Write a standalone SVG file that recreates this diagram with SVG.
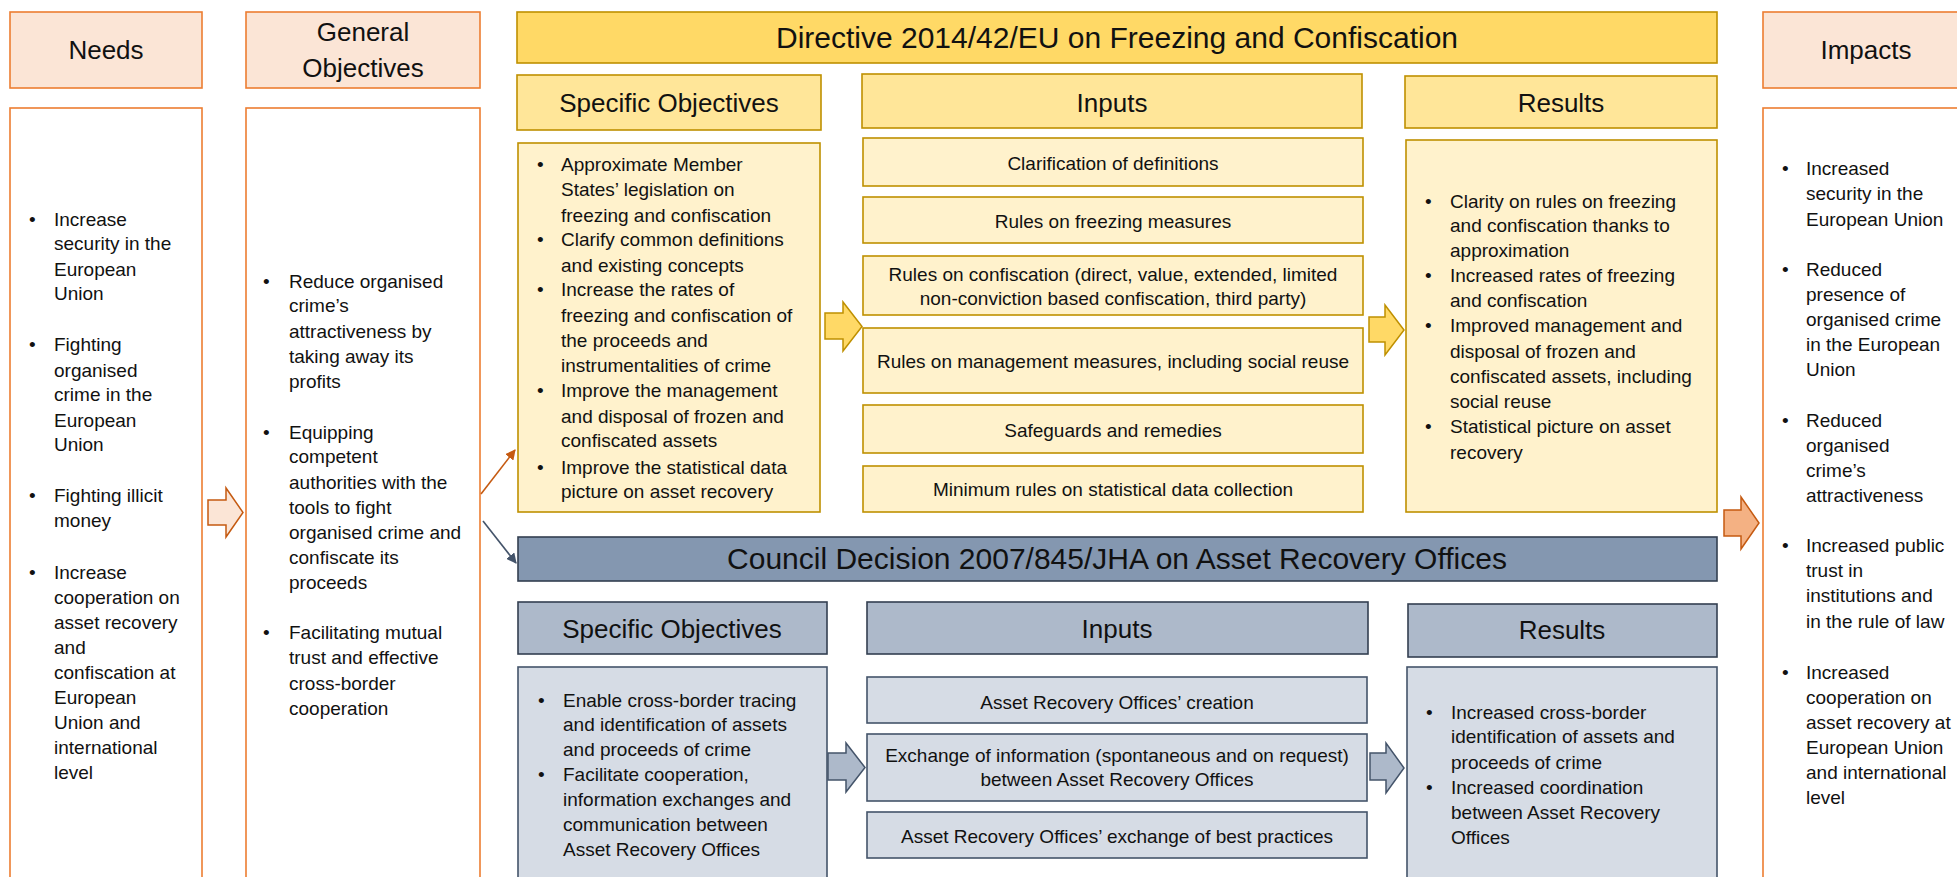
<svg xmlns="http://www.w3.org/2000/svg" width="1957" height="877" viewBox="0 0 1957 877">
<style>
text{font-family:"Liberation Sans",Arial,sans-serif;fill:#111;}
.t{font-size:19px;}
.h{font-size:26px;text-anchor:middle;}
.ti{font-size:30px;text-anchor:middle;}
.c{text-anchor:middle;}
.oh{fill:#FBE5D6;stroke:#ED7D31;stroke-width:1.6;}
.ob{fill:#FFFFFF;stroke:#ED7D31;stroke-width:1.6;}
.yt{fill:#FFD966;stroke:#BF9000;stroke-width:1.6;}
.yh{fill:#FFE699;stroke:#BF9000;stroke-width:1.6;}
.yb{fill:#FFF2CC;stroke:#BF9000;stroke-width:1.6;}
.gt{fill:#8497B0;stroke:#333F50;stroke-width:1.6;}
.gh{fill:#ADB9CA;stroke:#333F50;stroke-width:1.6;}
.gb{fill:#D6DCE5;stroke:#44546A;stroke-width:1.6;}
.ya{fill:#FFD966;stroke:#BF9000;stroke-width:1.5;}
.ga{fill:#ADB9CA;stroke:#44546A;stroke-width:1.5;}
.oa{fill:#F4B183;stroke:#C55A11;stroke-width:1.5;}
.pa{fill:#FBE5D6;stroke:#C55A11;stroke-width:1.5;}
</style>
<defs>
<marker id="mo" viewBox="0 0 10 10" refX="9" refY="5" markerWidth="6.5" markerHeight="6.5" orient="auto"><path d="M0,0 L10,5 L0,10 z" fill="#C55A11"/></marker>
<marker id="mg" viewBox="0 0 10 10" refX="9" refY="5" markerWidth="6.5" markerHeight="6.5" orient="auto"><path d="M0,0 L10,5 L0,10 z" fill="#44546A"/></marker>
</defs>

<g id="needs">
<rect class="oh" x="10" y="12" width="192" height="76"/>
<text class="h" x="106" y="59">Needs</text>
<rect class="ob" x="10" y="108" width="192" height="790"/>
<g class="t">
<text x="29" y="226">•</text><text x="54" y="226">Increase</text>
<text x="54" y="250">security in the</text>
<text x="54" y="276">European</text>
<text x="54" y="300">Union</text>
<text x="29" y="351">•</text><text x="54" y="351">Fighting</text>
<text x="54" y="377">organised</text>
<text x="54" y="401">crime in the</text>
<text x="54" y="427">European</text>
<text x="54" y="451">Union</text>
<text x="29" y="502">•</text><text x="54" y="502">Fighting illicit</text>
<text x="54" y="527">money</text>
<text x="29" y="579">•</text><text x="54" y="579">Increase</text>
<text x="54" y="604">cooperation on</text>
<text x="54" y="629">asset recovery</text>
<text x="54" y="654">and</text>
<text x="54" y="679">confiscation at</text>
<text x="54" y="704">European</text>
<text x="54" y="729">Union and</text>
<text x="54" y="754">international</text>
<text x="54" y="779">level</text>
</g>
</g>

<g id="general-objectives">
<rect class="oh" x="246" y="12" width="234" height="76"/>
<text class="h" x="363" y="41">General</text>
<text class="h" x="363" y="77">Objectives</text>
<rect class="ob" x="246" y="108" width="234" height="790"/>
<g class="t">
<text x="263" y="288">•</text><text x="289" y="288">Reduce organised</text>
<text x="289" y="312">crime’s</text>
<text x="289" y="338">attractiveness by</text>
<text x="289" y="363">taking away its</text>
<text x="289" y="388">profits</text>
<text x="263" y="439">•</text><text x="289" y="439">Equipping</text>
<text x="289" y="463">competent</text>
<text x="289" y="489">authorities with the</text>
<text x="289" y="514">tools to fight</text>
<text x="289" y="539">organised crime and</text>
<text x="289" y="564">confiscate its</text>
<text x="289" y="589">proceeds</text>
<text x="263" y="639">•</text><text x="289" y="639">Facilitating mutual</text>
<text x="289" y="664">trust and effective</text>
<text x="289" y="690">cross-border</text>
<text x="289" y="715">cooperation</text>
</g>
</g>

<g id="directive-title">
<rect class="yt" x="517" y="12" width="1200" height="51"/>
<text class="ti" x="1117" y="48">Directive 2014/42/EU on Freezing and Confiscation</text>
</g>

<g id="dir-specific-objectives">
<rect class="yh" x="517" y="75" width="304" height="55"/>
<text class="h" x="669" y="112">Specific Objectives</text>
<rect class="yb" x="518" y="143" width="302" height="369"/>
<g class="t">
<text x="537" y="171">•</text><text x="561" y="171">Approximate Member</text>
<text x="561" y="196">States’ legislation on</text>
<text x="561" y="222">freezing and confiscation</text>
<text x="537" y="246">•</text><text x="561" y="246">Clarify common definitions</text>
<text x="561" y="272">and existing concepts</text>
<text x="537" y="296">•</text><text x="561" y="296">Increase the rates of</text>
<text x="561" y="322">freezing and confiscation of</text>
<text x="561" y="347">the proceeds and</text>
<text x="561" y="372">instrumentalities of crime</text>
<text x="537" y="397">•</text><text x="561" y="397">Improve the management</text>
<text x="561" y="423">and disposal of frozen and</text>
<text x="561" y="447">confiscated assets</text>
<text x="537" y="474">•</text><text x="561" y="474">Improve the statistical data</text>
<text x="561" y="498">picture on asset recovery</text>
</g>
</g>

<g id="dir-inputs">
<rect class="yh" x="862" y="74" width="500" height="54"/>
<text class="h" x="1112" y="112">Inputs</text>
<rect class="yb" x="863" y="138" width="500" height="48"/>
<text class="t c" x="1113" y="170">Clarification of definitions</text>
<rect class="yb" x="863" y="197" width="500" height="46"/>
<text class="t c" x="1113" y="228">Rules on freezing measures</text>
<rect class="yb" x="863" y="256" width="500" height="59"/>
<text class="t c" x="1113" y="281">Rules on confiscation (direct, value, extended, limited</text>
<text class="t c" x="1113" y="305">non-conviction based confiscation, third party)</text>
<rect class="yb" x="863" y="328" width="500" height="65"/>
<text class="t c" x="1113" y="368">Rules on management measures, including social reuse</text>
<rect class="yb" x="863" y="405" width="500" height="48"/>
<text class="t c" x="1113" y="437">Safeguards and remedies</text>
<rect class="yb" x="863" y="466" width="500" height="46"/>
<text class="t c" x="1113" y="496">Minimum rules on statistical data collection</text>
</g>

<g id="dir-results">
<rect class="yh" x="1405" y="76" width="312" height="52"/>
<text class="h" x="1561" y="112">Results</text>
<rect class="yb" x="1406" y="140" width="311" height="372"/>
<g class="t">
<text x="1425" y="208">•</text><text x="1450" y="208">Clarity on rules on freezing</text>
<text x="1450" y="232">and confiscation thanks to</text>
<text x="1450" y="257">approximation</text>
<text x="1425" y="282">•</text><text x="1450" y="282">Increased rates of freezing</text>
<text x="1450" y="307">and confiscation</text>
<text x="1425" y="332">•</text><text x="1450" y="332">Improved management and</text>
<text x="1450" y="358">disposal of frozen and</text>
<text x="1450" y="383">confiscated assets, including</text>
<text x="1450" y="408">social reuse</text>
<text x="1425" y="433">•</text><text x="1450" y="433">Statistical picture on asset</text>
<text x="1450" y="459">recovery</text>
</g>
</g>

<g id="impacts">
<rect class="oh" x="1763" y="12" width="210" height="76"/>
<text class="h" x="1866" y="59">Impacts</text>
<rect class="ob" x="1763" y="108" width="210" height="790"/>
<g class="t">
<text x="1782" y="175">•</text><text x="1806" y="175">Increased</text>
<text x="1806" y="200">security in the</text>
<text x="1806" y="226">European Union</text>
<text x="1782" y="276">•</text><text x="1806" y="276">Reduced</text>
<text x="1806" y="301">presence of</text>
<text x="1806" y="326">organised crime</text>
<text x="1806" y="351">in the European</text>
<text x="1806" y="376">Union</text>
<text x="1782" y="427">•</text><text x="1806" y="427">Reduced</text>
<text x="1806" y="452">organised</text>
<text x="1806" y="477">crime’s</text>
<text x="1806" y="502">attractiveness</text>
<text x="1782" y="552">•</text><text x="1806" y="552">Increased public</text>
<text x="1806" y="577">trust in</text>
<text x="1806" y="602">institutions and</text>
<text x="1806" y="628">in the rule of law</text>
<text x="1782" y="679">•</text><text x="1806" y="679">Increased</text>
<text x="1806" y="704">cooperation on</text>
<text x="1806" y="729">asset recovery at</text>
<text x="1806" y="754">European Union</text>
<text x="1806" y="779">and international</text>
<text x="1806" y="804">level</text>
</g>
</g>

<g id="council-title">
<rect class="gt" x="518" y="537" width="1199" height="44"/>
<text class="ti" x="1117" y="569">Council Decision 2007/845/JHA on Asset Recovery Offices</text>
</g>

<g id="council-specific-objectives">
<rect class="gh" x="518" y="602" width="309" height="52"/>
<text class="h" x="672" y="638">Specific Objectives</text>
<rect class="gb" x="518" y="667" width="309" height="230"/>
<g class="t">
<text x="538" y="707">•</text><text x="563" y="707">Enable cross-border tracing</text>
<text x="563" y="731">and identification of assets</text>
<text x="563" y="756">and proceeds of crime</text>
<text x="538" y="781">•</text><text x="563" y="781">Facilitate cooperation,</text>
<text x="563" y="806">information exchanges and</text>
<text x="563" y="831">communication between</text>
<text x="563" y="856">Asset Recovery Offices</text>
</g>
</g>

<g id="council-inputs">
<rect class="gh" x="867" y="602" width="501" height="52"/>
<text class="h" x="1117" y="638">Inputs</text>
<rect class="gb" x="867" y="677" width="500" height="46"/>
<text class="t c" x="1117" y="709">Asset Recovery Offices’ creation</text>
<rect class="gb" x="867" y="734" width="500" height="67"/>
<text class="t c" x="1117" y="762">Exchange of information (spontaneous and on request)</text>
<text class="t c" x="1117" y="786">between Asset Recovery Offices</text>
<rect class="gb" x="867" y="812" width="500" height="46"/>
<text class="t c" x="1117" y="843">Asset Recovery Offices’ exchange of best practices</text>
</g>

<g id="council-results">
<rect class="gh" x="1408" y="604" width="309" height="53"/>
<text class="h" x="1562" y="639">Results</text>
<rect class="gb" x="1407" y="667" width="310" height="230"/>
<g class="t">
<text x="1426" y="719">•</text><text x="1451" y="719">Increased cross-border</text>
<text x="1451" y="743">identification of assets and</text>
<text x="1451" y="769">proceeds of crime</text>
<text x="1426" y="794">•</text><text x="1451" y="794">Increased coordination</text>
<text x="1451" y="819">between Asset Recovery</text>
<text x="1451" y="844">Offices</text>
</g>
</g>

<g id="connectors">
<polygon class="pa" points="208,500 226,500 226,488 243,512.5 226,537 226,525 208,525"/>
<polygon class="ya" points="825,313 843,313 843,302 862,326.5 843,351 843,339 825,339"/>
<polygon class="ya" points="1369,317 1385,317 1385,305 1404,330 1385,355 1385,342 1369,342"/>
<polygon class="ga" points="828,753 846,753 846,743 865,767.5 846,792 846,780 828,780"/>
<polygon class="ga" points="1370,753 1386,753 1386,743 1404,768 1386,793 1386,780 1370,780"/>
<polygon class="oa" points="1724,510 1741,510 1741,497 1759,523 1741,549 1741,536 1724,536"/>
<line x1="481" y1="494" x2="515" y2="450" stroke="#C55A11" stroke-width="1.6" marker-end="url(#mo)"/>
<line x1="483" y1="521" x2="516" y2="563" stroke="#44546A" stroke-width="1.6" marker-end="url(#mg)"/>
</g>
</svg>
